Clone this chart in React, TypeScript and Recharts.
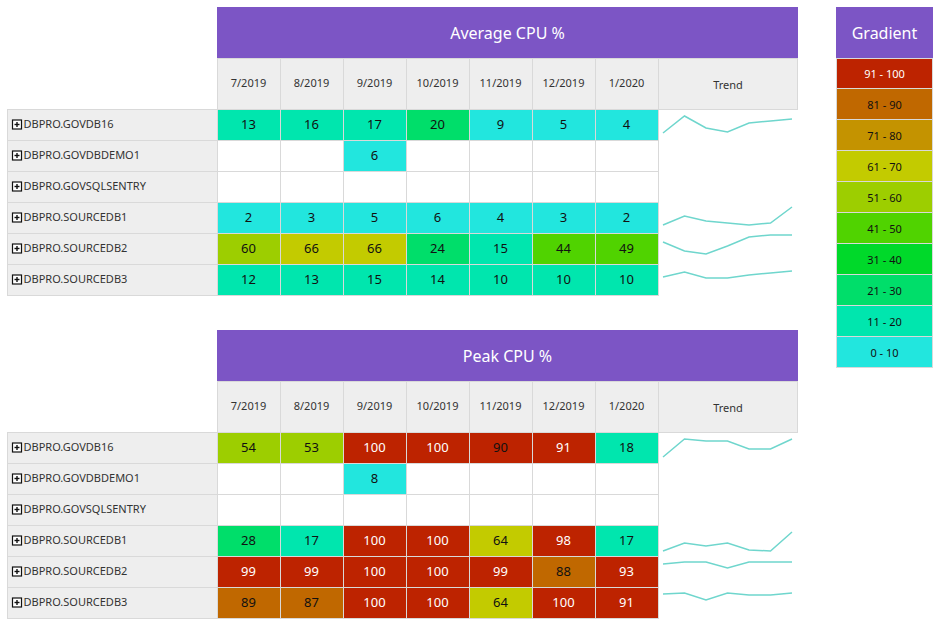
import { ScatterChart, Scatter, XAxis, YAxis, LineChart, Line } from "recharts";

const months = ["7/2019", "8/2019", "9/2019", "10/2019", "11/2019", "12/2019", "1/2020"];
const servers = [
  "DBPRO.GOVDB16",
  "DBPRO.GOVDBDEMO1",
  "DBPRO.GOVSQLSENTRY",
  "DBPRO.SOURCEDB1",
  "DBPRO.SOURCEDB2",
  "DBPRO.SOURCEDB3",
];

// Average CPU %
const avgGovdb16 = [13, 16, 17, 20, 9, 5, 4];
const avgGovdbdemo1 = [null, null, 6, null, null, null, null];
const avgGovsqlsentry = [null, null, null, null, null, null, null];
const avgSourcedb1 = [2, 3, 5, 6, 4, 3, 2];
const avgSourcedb2 = [59.7, 66, 66, 24, 15, 44, 49];
const avgSourcedb3 = [12, 13, 15, 14, 10, 10, 10];

// Peak CPU %
const peakGovdb16 = [54, 53, 100, 100, 90, 91, 18];
const peakGovdbdemo1 = [null, null, 8, null, null, null, null];
const peakGovsqlsentry = [null, null, null, null, null, null, null];
const peakSourcedb1 = [28, 17, 100, 100, 64, 98, 17];
const peakSourcedb2 = [99, 99, 100, 100, 99, 88, 93];
const peakSourcedb3 = [89, 87, 100, 100, 64, 100, 91];

// sparkline heights as drawn in the Trend column
const avgTrendGovdb16 = [7, 24, 12, 8, 17, 19, 21];
const avgTrendSourcedb1 = [8, 17, 12, 10, 8, 10, 26];
const avgTrendSourcedb2 = [22, 13, 10, 18, 27, 29, 29];
const avgTrendSourcedb3 = [18, 23, 17, 17, 20, 22, 24];
const peakTrendGovdb16 = [6, 24, 22, 22, 14, 14, 24];
const peakTrendSourcedb1 = [5, 13, 10, 13, 6, 5, 24];
const peakTrendSourcedb2 = [23, 25, 25, 19, 25, 25, 25];
const peakTrendSourcedb3 = [24, 25, 18, 25, 23, 23, 25];

const gradientLabels = ["91 - 100", "81 - 90", "71 - 80", "61 - 70", "51 - 60", "41 - 50", "31 - 40", "21 - 30", "11 - 20", "0 - 10"];

// low -> high
const bandColors = ["#22e6de", "#00e6ae", "#00de6a", "#00d92a", "#50d300", "#9dce00", "#c3cb00", "#c49300", "#c06800", "#bd2300"];

const FONT = '"Segoe UI", "Noto Sans", "Open Sans", sans-serif';
const PURPLE = "#7c55c5";
const GRID = "#d9d9d9";
const HEAD_BG = "#eeeeee";
const CELL_W = 63;
const CELL_H = 31;
const LABEL_W = 210;
const HEAD_H = 51;
const TREND_W = 139;
const SPARK = "#6fd6cd";

const colorFor = (v: number) => bandColors[Math.min(9, Math.floor(v / 10))];

const CellShape = (props: any) => {
  const { cx, cy, payload } = props;
  const v = payload.value;
  const x = cx - CELL_W / 2 + 0.5;
  const y = cy - CELL_H / 2 + 0.5;
  return (
    <g>
      <rect x={x} y={y} width={CELL_W} height={CELL_H} fill={v == null ? "#ffffff" : colorFor(v)} stroke={GRID} />
      {v != null && (
        <text x={cx} y={cy} dy="0.36em" textAnchor="middle" fontSize={13} fill={v >= 90.5 ? "#ffffff" : "#111111"} fontFamily={FONT}>
          {Math.round(v)}
        </text>
      )}
    </g>
  );
};

const MonthTick = (props: any) => {
  const { x, y, payload } = props;
  return (
    <g>
      <rect x={x - CELL_W / 2 + 0.5} y={y - HEAD_H + 0.5} width={CELL_W} height={HEAD_H} fill={HEAD_BG} stroke={GRID} />
      <text x={x} y={y - HEAD_H / 2} dy="0.36em" textAnchor="middle" fontSize={11} fill="#333333" fontFamily={FONT}>
        {payload.value}
      </text>
    </g>
  );
};

const ServerTick = (props: any) => {
  const { x, y, payload } = props;
  const left = x - LABEL_W + 0.5;
  const bx = left + 5;
  const by = y - 4.5;
  return (
    <g>
      <rect x={left} y={y - CELL_H / 2 + 0.5} width={LABEL_W} height={CELL_H} fill={HEAD_BG} stroke={GRID} />
      <rect x={bx} y={by} width={9} height={9} fill="#ffffff" stroke="#111111" strokeWidth={1.2} />
      <line x1={bx + 2} x2={bx + 7} y1={by + 4.5} y2={by + 4.5} stroke="#111111" strokeWidth={1.4} />
      <line x1={bx + 4.5} x2={bx + 4.5} y1={by + 2} y2={by + 7} stroke="#111111" strokeWidth={1.4} />
      <text x={left + 16} y={y} dy="0.36em" fontSize={11} fill="#333333" fontFamily={FONT}>
        {payload.value}
      </text>
    </g>
  );
};

function Sparkline({ values, left, top }: { values: number[]; left: number; top: number }) {
  const data = months.map((m, i) => ({ month: m, v: values[i] }));
  return (
    <div style={{ position: "absolute", left, top }}>
      <LineChart width={TREND_W} height={CELL_H} data={data} margin={{ top: 0, right: 5, bottom: 0, left: 5 }}>
        <XAxis dataKey="month" hide />
        <YAxis hide domain={[0, CELL_H]} />
        <Line dataKey="v" stroke={SPARK} strokeWidth={1.5} dot={false} isAnimationActive={false} />
      </LineChart>
    </div>
  );
}

function HeatTable({ title, rows, trends, top }: { title: string; rows: (number | null)[][]; trends: (number[] | null)[]; top: number }) {
  const data: any[] = [];
  servers.forEach((s, r) => months.forEach((m, c) => data.push({ server: s, month: m, value: rows[r][c] })));
  const left = 7;
  const plotLeft = left + LABEL_W;
  const headTop = top + 51;
  const plotTop = headTop + HEAD_H;
  return (
    <>
      <div
        style={{
          position: "absolute",
          left: plotLeft,
          top,
          width: CELL_W * 7 + TREND_W + 1,
          height: 51,
          background: PURPLE,
          color: "#ffffff",
          fontSize: 16,
          display: "flex",
          alignItems: "center",
          justifyContent: "center",
        }}
      >
        {title}
      </div>
      <div
        style={{
          position: "absolute",
          left: plotLeft + CELL_W * 7,
          top: headTop,
          width: TREND_W + 1,
          height: HEAD_H + 1,
          boxSizing: "border-box",
          background: HEAD_BG,
          border: `1px solid ${GRID}`,
          fontSize: 11,
          color: "#333333",
          display: "flex",
          alignItems: "center",
          justifyContent: "center",
        }}
      >
        Trend
      </div>
      <div style={{ position: "absolute", left, top: headTop }}>
        <ScatterChart width={LABEL_W + CELL_W * 7 + 2} height={HEAD_H + CELL_H * 6 + 2} margin={{ top: 0, right: 2, bottom: 2, left: 0 }}>
          <XAxis
            type="category"
            dataKey="month"
            orientation="top"
            allowDuplicatedCategory={false}
            height={HEAD_H}
            axisLine={false}
            tickLine={false}
            tickSize={0}
            tickMargin={0}
            interval={0}
            tick={<MonthTick />}
          />
          <YAxis
            type="category"
            dataKey="server"
            reversed
            allowDuplicatedCategory={false}
            width={LABEL_W}
            axisLine={false}
            tickLine={false}
            tickSize={0}
            tickMargin={0}
            interval={0}
            tick={<ServerTick />}
          />
          <Scatter data={data} shape={<CellShape />} isAnimationActive={false} />
        </ScatterChart>
      </div>
      {trends.map((t, r) =>
        t ? <Sparkline key={r} values={t} left={plotLeft + CELL_W * 7} top={plotTop + r * CELL_H} /> : null
      )}
    </>
  );
}

function GradientLegend() {
  return (
    <div style={{ position: "absolute", left: 836, top: 7, width: 97 }}>
      <div
        style={{
          height: 51,
          background: PURPLE,
          color: "#ffffff",
          fontSize: 16,
          display: "flex",
          alignItems: "center",
          justifyContent: "center",
        }}
      >
        Gradient
      </div>
      {gradientLabels.map((label, i) => (
        <div
          key={label}
          style={{
            height: CELL_H,
            boxSizing: "border-box",
            border: `1px solid ${GRID}`,
            borderTop: i === 0 ? `1px solid ${GRID}` : "none",
            background: bandColors[9 - i],
            color: i === 0 ? "#ffffff" : "#111111",
            fontSize: 11,
            display: "flex",
            alignItems: "center",
            justifyContent: "center",
          }}
        >
          {label}
        </div>
      ))}
    </div>
  );
}

export default function App() {
  const avgRows = [avgGovdb16, avgGovdbdemo1, avgGovsqlsentry, avgSourcedb1, avgSourcedb2, avgSourcedb3];
  const peakRows = [peakGovdb16, peakGovdbdemo1, peakGovsqlsentry, peakSourcedb1, peakSourcedb2, peakSourcedb3];
  const avgTrends = [avgTrendGovdb16, null, null, avgTrendSourcedb1, avgTrendSourcedb2, avgTrendSourcedb3];
  const peakTrends = [peakTrendGovdb16, null, null, peakTrendSourcedb1, peakTrendSourcedb2, peakTrendSourcedb3];
  return (
    <div style={{ position: "absolute", left: 0, top: 0, width: 939, height: 622, background: "#ffffff", fontFamily: FONT }}>
      <HeatTable title="Average CPU %" rows={avgRows} trends={avgTrends} top={7} />
      <HeatTable title="Peak CPU %" rows={peakRows} trends={peakTrends} top={330} />
      <GradientLegend />
    </div>
  );
}
